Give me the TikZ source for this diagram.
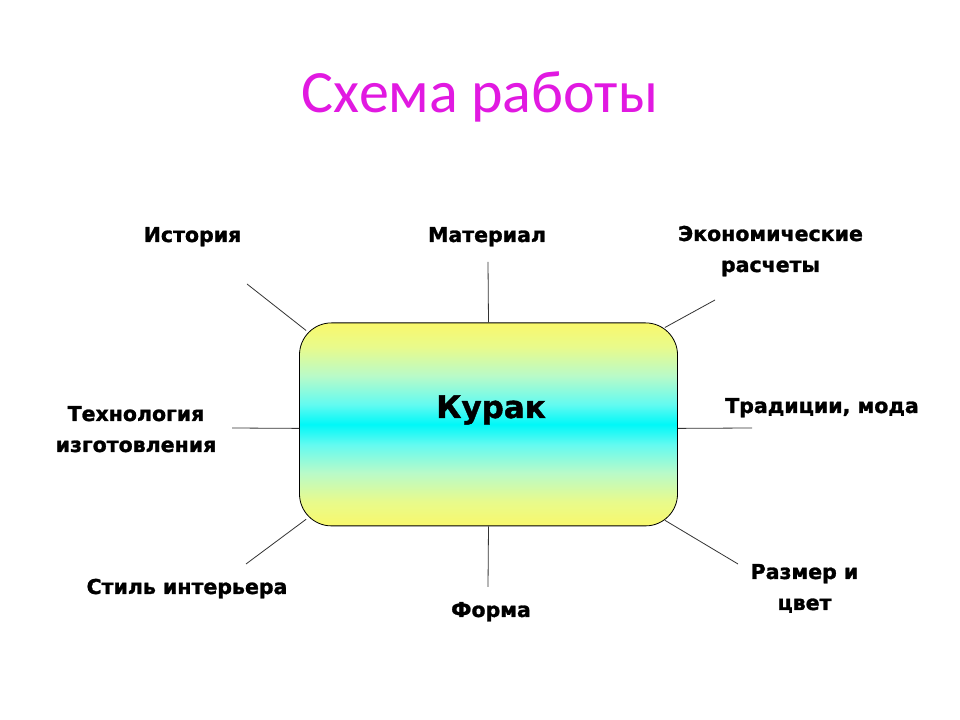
\documentclass[tikz,border=0pt]{standalone}
\usepackage{fontspec}
\setmainfont{DejaVu Sans}
\newfontfamily\titlefont{Carlito}
\newfontfamily\heavyfont{DejaVu Sans Bold}[FakeBold=1.3]
\usetikzlibrary{calc}
\definecolor{titlemag}{RGB}{225,25,225}
\definecolor{kyA}{RGB}{249,249,108}
\definecolor{kyB}{RGB}{232,250,140}
\definecolor{kyC}{RGB}{185,250,200}
\definecolor{kyD}{RGB}{100,250,240}
\definecolor{kyE}{RGB}{0,248,248}
\pgfdeclareverticalshading{kurakshade}{100bp}{color(0bp)=(kyA); color(25bp)=(kyA); color(31bp)=(kyB); color(38bp)=(kyC); color(45bp)=(kyD); color(50bp)=(kyE); color(55bp)=(kyD); color(62bp)=(kyC); color(69bp)=(kyB); color(75bp)=(kyA); color(100bp)=(kyA)}
\tikzset{
  lbl/.style={font=\heavyfont\fontsize{20.5bp}{31bp}\selectfont, align=center, inner sep=0pt, anchor=base},
  conn/.style={draw=black!80, line width=0.8bp},
}
\begin{document}
\begin{tikzpicture}[x=1bp,y=1bp]
\useasboundingbox (0,0) rectangle (960,720);
\fill[white] (0,0) rectangle (960,720);
% title
\node[anchor=base, inner sep=0pt, text=titlemag, font=\titlefont\fontsize{60bp}{60bp}\selectfont] (title) at (480,607) {Схема работы};
% central box
\node[minimum width=378bp, minimum height=203bp, inner sep=0pt, rounded corners=32bp,
      draw=black, line width=0.8bp, shading=kurakshade] (box) at (488.5,295.6) {};
\node[anchor=base, inner sep=0pt, font=\heavyfont\fontsize{31bp}{31bp}\selectfont] (kurak) at (491,302) {Курак};
% labels
\node[lbl] (ist) at (192.5,478) {История};
\node[lbl] (mat) at (487,478) {Материал};
\node[lbl] (eco) at (770.5,448) {Экономические\\расчеты};
\node[lbl] (trad) at (822,307) {Традиции, мода};
\node[lbl] (tech) at (136,268) {Технология\\изготовления};
\node[lbl] (style) at (187,126) {Стиль интерьера};
\node[lbl] (forma) at (491,103) {Форма};
\node[lbl] (razm) at (804.5,110) {Размер и\\цвет};
% free ends
\coordinate (e1) at (247,436);
\coordinate (e2) at (488,458);
\coordinate (e3) at (715,420);
\coordinate (e4) at (752,292);
\coordinate (e5) at (232,292);
\coordinate (e6) at (246,156);
\coordinate (e7) at (488,133);
\coordinate (e8) at (738,156);
% connectors
\draw[conn] ($(box.north west)+(7,-8)$) -- (e1);
\draw[conn] (box.north) -- (e2);
\draw[conn] ($(box.north east)+(-13,-5)$) -- (e3);
\draw[conn] ($(box.east)+(0,-4)$) -- (e4);
\draw[conn] ($(box.west)+(0,-4)$) -- (e5);
\draw[conn] ($(box.south west)+(7,7)$) -- (e6);
\draw[conn] (box.south) -- (e7);
\draw[conn] ($(box.south east)+(-13,6)$) -- (e8);
\end{tikzpicture}
\end{document}
